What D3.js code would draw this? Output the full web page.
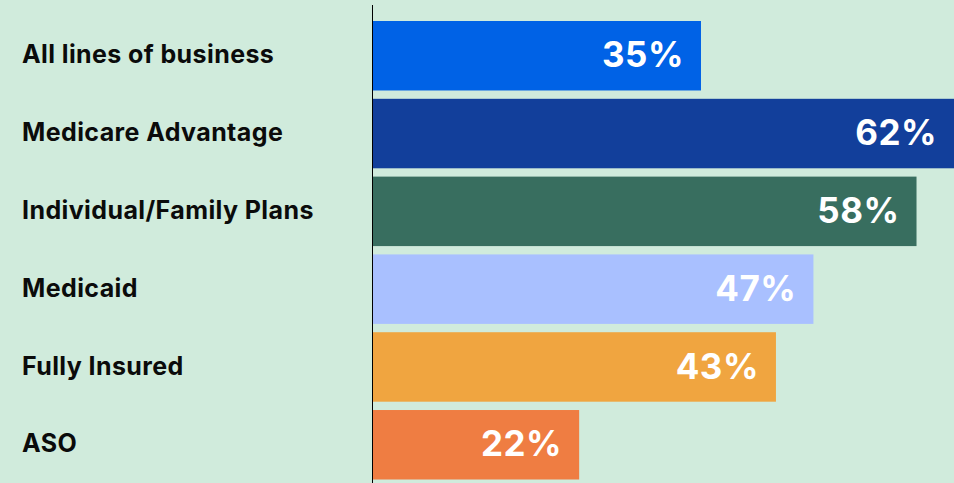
<!DOCTYPE html>
<html>
<head>
<meta charset="utf-8">
<script src="https://cdn.jsdelivr.net/npm/d3@7"></script>
<style>
  html, body { margin: 0; padding: 0; background: #d0ebdc; }
  svg { display: block; }
</style>
</head>
<body>
<svg id="chart" width="954" height="483"></svg>
<script>
// Share of respondents by line of business
const categories = [
  "All lines of business",
  "Medicare Advantage",
  "Individual/Family Plans",
  "Medicaid",
  "Fully Insured",
  "ASO"
];
const values = [35, 62, 58, 47, 43, 22];
const barColors = ["#0062e6", "#123f9b", "#386e5f", "#a9c0ff", "#f0a540", "#ef7d42"];

const width = 954, height = 483;
const svg = d3.select("#chart");

svg.append("rect")
  .attr("width", width).attr("height", height)
  .attr("fill", "#d0ebdc");

const x = d3.scaleLinear().domain([0, 62]).range([373, 954]);
const y = d3.scaleBand().domain(categories).range([21, 479.5]).paddingInner(0.107).paddingOuter(0);

const data = categories.map((c, i) => ({ cat: c, value: values[i], color: barColors[i] }));

svg.append("g").selectAll("rect")
  .data(data)
  .join("rect")
  .attr("x", x(0))
  .attr("y", d => y(d.cat))
  .attr("width", d => x(d.value) - x(0))
  .attr("height", y.bandwidth())
  .attr("fill", d => d.color);

// Category labels on the left
svg.append("g").selectAll("text")
  .data(data)
  .join("text")
  .attr("x", 22)
  .attr("y", d => y(d.cat) + y.bandwidth() / 2 + 7.7)
  .attr("font-family", "Inter, 'Open Sans', sans-serif")
  .attr("font-weight", 700)
  .attr("font-size", 25)
  .attr("letter-spacing", 0.4)
  .attr("fill", "#0b0b0b")
  .text(d => d.cat);

// Value labels inside the bar ends
svg.append("g").selectAll("text")
  .data(data)
  .join("text")
  .attr("x", d => Math.min(x(d.value), width) - 17)
  .attr("y", d => y(d.cat) + y.bandwidth() / 2 + 11.7)
  .attr("text-anchor", "end")
  .attr("font-family", "Inter, 'Open Sans', sans-serif")
  .attr("font-weight", 700)
  .attr("font-size", 35)
  .attr("letter-spacing", 0.5)
  .attr("fill", "#ffffff")
  .text(d => d.value + "%");

// Vertical baseline axis
svg.append("line")
  .attr("x1", 372.5).attr("x2", 372.5)
  .attr("y1", 5).attr("y2", height)
  .attr("stroke", "#000").attr("stroke-width", 1);
</script>
</body>
</html>
